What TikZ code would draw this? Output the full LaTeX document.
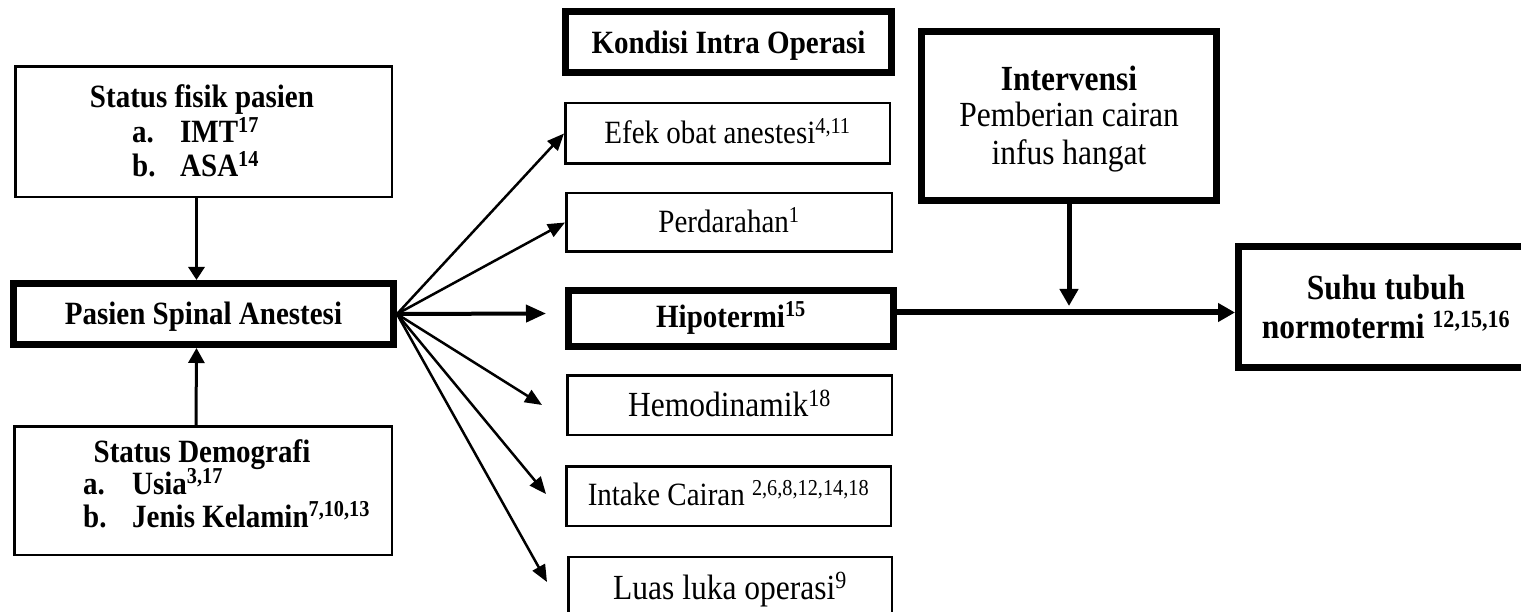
\documentclass[tikz,border=0pt]{standalone}
\usepackage{graphicx}
\usepackage{fontspec}
\setmainfont{Liberation Serif}
\usetikzlibrary{arrows.meta}
\newcommand\myreg[1]{\fontsize{#1}{#1}\selectfont}
\newcommand\mybold[1]{\fontsize{#1}{#1}\selectfont\bfseries}
\newcommand\tall[1]{\scalebox{1}[1.12]{#1}}
\begin{document}
\begin{tikzpicture}[x=1pt,y=-1pt,
  thinbox/.style={draw,line width=2.5pt,rectangle,inner sep=0pt,text depth=0pt},
  thickbox/.style={draw,line width=7pt,rectangle,inner sep=0pt,text depth=0pt},
  txt/.style={inner sep=0pt,anchor=base},
  txtw/.style={inner sep=0pt,anchor=base west},
  arr/.style={line width=2.5pt,-{Triangle[length=17pt,width=14pt]}},
  bigarr/.style={-{Triangle[length=17pt,width=18pt]}}
]
\useasboundingbox (0,0) rectangle (1521,612);

% left column
\node[thinbox,minimum width=376.5pt,minimum height=130.5pt] (fisik) at (203.5,132) {};
\node[txt,font=\mybold{29}] (fisik-t) at (202,108) {\tall{Status fisik pasien}};
\node[txtw,font=\mybold{29}] (fisik-a) at (132,143) {\tall{a.}};
\node[txtw,font=\mybold{29}] (fisik-a2) at (180,143) {\tall{IMT\textsuperscript{17}}};
\node[txtw,font=\mybold{29}] (fisik-b) at (132,177) {\tall{b.}};
\node[txtw,font=\mybold{29}] (fisik-b2) at (180,177) {\tall{ASA\textsuperscript{14}}};

\node[thickbox,minimum width=380pt,minimum height=61pt,text height=22pt,font=\mybold{29}] (pasien) at (203.5,314) {\tall{Pasien Spinal Anestesi}};

\node[thinbox,minimum width=377.5pt,minimum height=128.5pt] (demo) at (203,490.5) {};
\node[txt,font=\mybold{29}] (demo-t) at (202,462) {\tall{Status Demografi}};
\node[txtw,font=\mybold{29}] (demo-a) at (83,494) {\tall{a.}};
\node[txtw,font=\mybold{29}] (demo-a2) at (132,494) {\tall{Usia\textsuperscript{3,17}}};
\node[txtw,font=\mybold{29}] (demo-b) at (83,527) {\tall{b.}};
\node[txtw,font=\mybold{29}] (demo-b2) at (132,527) {\tall{Jenis Kelamin\textsuperscript{7,10,13}}};

% middle column
\node[thickbox,minimum width=326pt,minimum height=61pt,text height=24pt,font=\mybold{29}] (kondisi) at (728.5,42) {\tall{Kondisi Intra Operasi}};
\node[thinbox,minimum width=324.5pt,minimum height=60.5pt,text height=21pt,font=\myreg{29}] (efek) at (727.5,133.5) {\tall{Efek obat anestesi\textsuperscript{4,11}}};
\node[thinbox,minimum width=325.5pt,minimum height=58.5pt,text height=21pt,font=\myreg{29}] (perd) at (729,222.5) {\tall{Perdarahan\textsuperscript{1}}};
\node[thickbox,minimum width=325pt,minimum height=56pt,text height=17pt,font=\mybold{29}] (hipo) at (731,318.5) {\tall{Hipotermi\textsuperscript{15}}};
\node[thinbox,minimum width=324.5pt,minimum height=59.5pt,text height=23pt,font=\myreg{31.5}] (hemo) at (729.5,405) {\tall{Hemodinamik\textsuperscript{18}}};
\node[thinbox,minimum width=324.5pt,minimum height=59.5pt,text height=19pt,font=\myreg{29}] (intake) at (728.5,496) {\tall{Intake Cairan \textsuperscript{2,6,8,12,14,18}}};
\node[thinbox,minimum width=323.5pt,minimum height=66pt,text height=18pt,font=\myreg{31.5}] (luas) at (730,590) {\tall{Luas luka operasi\textsuperscript{9}}};

% right part
\node[thickbox,minimum width=295pt,minimum height=169pt] (interv) at (1069,116) {};
\node[txt,font=\mybold{31.5}] (interv-t) at (1069,91) {\tall{Intervensi}};
\node[txt,font=\myreg{31.5}] (interv-l1) at (1069,127) {\tall{Pemberian cairan}};
\node[txt,font=\myreg{31.5}] (interv-l2) at (1069,165) {\tall{infus hangat}};

\node[thickbox,minimum width=295pt,minimum height=121pt] (suhu) at (1386,307) {};
\node[txt,font=\mybold{31.5}] (suhu-t) at (1386,300) {\tall{Suhu tubuh}};
\node[txt,font=\mybold{31.5}] (suhu-l) at (1386,338) {\tall{normotermi \textsuperscript{12,15,16}}};

% free ends
\coordinate (tip-hipo) at (546,313.5);
\coordinate (tip-hemo) at (542,405);
\coordinate (tip-intake) at (546,494);
\coordinate (tip-luas) at (547,582);
\coordinate (j) at (1069,312.5);
\coordinate (jt) at (1069,306);

% connectors
\draw[line width=3pt,-{Triangle[length=13pt,width=16pt]}] ([xshift=-7pt]fisik.south) -- ([xshift=-7pt]pasien.north);
\draw[line width=3pt,-{Triangle[length=15pt,width=16pt]}] ([xshift=-7pt]demo.north) -- ([xshift=-7pt]pasien.south);

\draw[arr] (pasien.east) -- (efek.west);
\draw[arr] (pasien.east) -- (perd.west);
\draw[line width=4pt,-{Triangle[length=20pt,width=17pt]}] (pasien.east) -- (tip-hipo);
\draw[arr] (pasien.east) -- (tip-hemo);
\draw[arr] (pasien.east) -- (tip-intake);
\draw[arr] (pasien.east) -- (tip-luas);

\draw[line width=6pt,bigarr] (hipo.east |- j) -- (suhu.west |- j);
\draw[line width=5pt,bigarr] (interv.south) -- (jt);
\end{tikzpicture}
\end{document}
